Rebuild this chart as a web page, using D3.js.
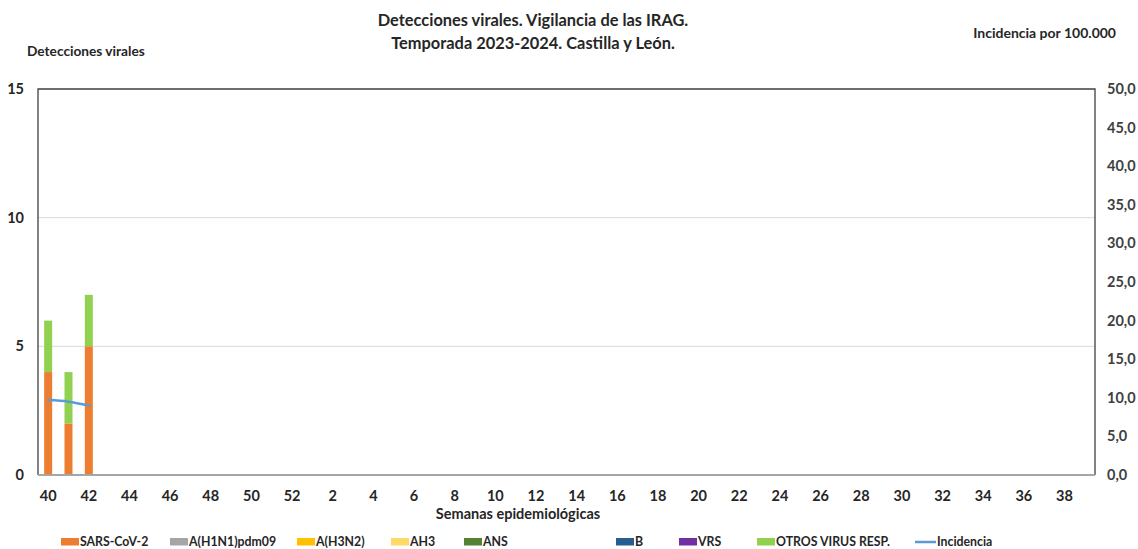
<!DOCTYPE html>
<html>
<head>
  <meta charset="utf-8">
  <title>Detecciones virales IRAG</title>
  <style>
   html, body { margin: 0; padding: 0; background: #fff; }
   text { font-family: Lato, "Open Sans", Arial, sans-serif; font-weight: bold; fill: #262626; }
  </style>
</head>
<body>
  <div id="chart"></div>
  <script src="https://d3js.org/d3.v7.min.js"></script>
  <script>
// weeks of the season, 40 of 2023 to 39 of 2024
var weeks = [40, 41, 42, 43, 44, 45, 46, 47, 48, 49, 50, 51, 52,
  1, 2, 3, 4, 5, 6, 7, 8, 9, 10, 11, 12, 13, 14, 15, 16, 17, 18, 19, 20,
  21, 22, 23, 24, 25, 26, 27, 28, 29, 30, 31, 32, 33, 34, 35, 36, 37, 38, 39];

// only weeks 40-42 reported so far
var sarsCov2 = [4, 2, 5];
var h1n1 = [0, 0, 0];
var h3n2 = [0, 0, 0];
var ah3 = [0, 0, 0];
var ans = [0, 0, 0];
var virusB = [0, 0, 0];
var vrs = [0, 0, 0];
var otros = [2, 2, 2];
var incidencia = [9.7, 9.5, 9.0];

var seriesNames = ["SARS-CoV-2", "A(H1N1)pdm09", "A(H3N2)", "AH3", "ANS", "B", "VRS", "OTROS VIRUS RESP."];
var seriesColors = ["#ED7D31", "#A5A5A5", "#FFC000", "#FFD966", "#548235", "#255E91", "#7030A0", "#92D050"];
var seriesValues = [sarsCov2, h1n1, h3n2, ah3, ans, virusB, vrs, otros];

var leftTicks = [0, 5, 10, 15];
var rightTicks = [0, 5, 10, 15, 20, 25, 30, 35, 40, 45, 50];

var width = 1138, height = 549;
var plotLeft = 38, plotRight = 1095, plotTop = 89, plotBottom = 475;

var svg = d3.select("#chart").append("svg")
  .attr("width", width)
  .attr("height", height);

var x = d3.scaleBand().domain(weeks).range([plotLeft, plotRight]);
var y = d3.scaleLinear().domain([0, 15]).range([plotBottom, plotTop]);
var y2 = d3.scaleLinear().domain([0, 50]).range([plotBottom, plotTop]);

// gridlines
svg.append("g").selectAll("line")
  .data([5, 10])
  .enter().append("line")
  .attr("x1", plotLeft).attr("x2", plotRight)
  .attr("y1", function(d) { return y(d); })
  .attr("y2", function(d) { return y(d); })
  .attr("stroke", "#d9d9d9")
  .attr("stroke-width", 1);

// stacked bars
var rows = weeks.slice(0, sarsCov2.length).map(function(w, i) {
  var r = { week: w };
  seriesNames.forEach(function(n, k) { r[n] = seriesValues[k][i]; });
  return r;
});
var stack = d3.stack().keys(seriesNames)(rows);
var barW = 8;

svg.append("g").selectAll("g")
  .data(stack)
  .enter().append("g")
  .attr("fill", function(d, i) { return seriesColors[i]; })
  .selectAll("rect")
  .data(function(d) { return d; })
  .enter().append("rect")
  .attr("x", function(d) { return x(d.data.week) + x.bandwidth() / 2 - barW / 2; })
  .attr("width", barW)
  .attr("y", function(d) { return y(d[1]); })
  .attr("height", function(d) { return y(d[0]) - y(d[1]); });

// incidence line
var line = d3.line()
  .x(function(d, i) { return x(weeks[i]) + x.bandwidth() / 2; })
  .y(function(d) { return y2(d); })
  .curve(d3.curveMonotoneX);

svg.append("path")
  .datum(incidencia)
  .attr("d", line)
  .attr("fill", "none")
  .attr("stroke", "#5B9BD5")
  .attr("stroke-width", 2.5)
  .attr("stroke-linecap", "round");

// frame
svg.append("path")
  .attr("d", "M" + plotLeft + "," + plotBottom + "V" + plotTop + "H" + plotRight + "V" + plotBottom)
  .attr("fill", "none")
  .attr("stroke", "#404040")
  .attr("stroke-width", 1.3);
svg.append("line")
  .attr("x1", plotLeft).attr("x2", plotRight)
  .attr("y1", plotBottom).attr("y2", plotBottom)
  .attr("stroke", "#a6a6a6")
  .attr("stroke-width", 2);

// left axis labels
svg.append("g").selectAll("text")
  .data(leftTicks)
  .enter().append("text")
  .attr("x", 24)
  .attr("y", function(d) { return y(d); })
  .attr("dy", "0.35em")
  .attr("text-anchor", "end")
  .style("font-size", "14.5px")
  .text(function(d) { return d; });

// right axis labels
var fmt = function(d) { return d3.format(".1f")(d).replace(".", ","); };
svg.append("g").selectAll("text")
  .data(rightTicks)
  .enter().append("text")
  .attr("x", 1107)
  .attr("y", function(d) { return y2(d); })
  .attr("dy", "0.35em")
  .attr("text-anchor", "start")
  .style("font-size", "14.5px")
  .style("fill", "#404040")
  .text(fmt);

// x labels every 2 weeks
svg.append("g").selectAll("text")
  .data(weeks.filter(function(w) { return w % 2 === 0; }))
  .enter().append("text")
  .attr("x", function(d) { return x(d) + x.bandwidth() / 2; })
  .attr("y", 496)
  .attr("dy", "0.35em")
  .attr("text-anchor", "middle")
  .style("font-size", "14.5px")
  .text(function(d) { return d; });

// titles
svg.append("text")
  .attr("x", 533).attr("y", 26)
  .attr("text-anchor", "middle")
  .style("font-size", "16.4px")
  .text("Detecciones virales. Vigilancia de las IRAG.");
svg.append("text")
  .attr("x", 533).attr("y", 49)
  .attr("text-anchor", "middle")
  .style("font-size", "16.4px")
  .text("Temporada 2023-2024. Castilla y León.");
svg.append("text")
  .attr("x", 27).attr("y", 56)
  .style("font-size", "13.7px")
  .text("Detecciones virales");
svg.append("text")
  .attr("x", 1116).attr("y", 38)
  .attr("text-anchor", "end")
  .style("font-size", "14px")
  .text("Incidencia por 100.000");
svg.append("text")
  .attr("x", 518).attr("y", 519)
  .attr("text-anchor", "middle")
  .style("font-size", "14.5px")
  .text("Semanas epidemiológicas");

// legend
var legendX = [61, 170, 297, 391, 464, 616, 679, 757];
var legendY = 542;
var legend = svg.append("g");
seriesNames.forEach(function(n, i) {
  legend.append("rect")
    .attr("x", legendX[i]).attr("y", legendY - 4)
    .attr("width", 18).attr("height", 7.5)
    .attr("fill", seriesColors[i]);
  legend.append("text")
    .attr("x", legendX[i] + 19).attr("y", legendY)
    .attr("dy", "0.35em")
    .style("font-size", "12.3px")
    .text(n);
});
legend.append("line")
  .attr("x1", 915).attr("x2", 936)
  .attr("y1", legendY).attr("y2", legendY)
  .attr("stroke", "#5B9BD5")
  .attr("stroke-width", 2.5);
legend.append("text")
  .attr("x", 937).attr("y", legendY)
  .attr("dy", "0.35em")
  .style("font-size", "12.3px")
  .text("Incidencia");
  </script>
</body>
</html>
